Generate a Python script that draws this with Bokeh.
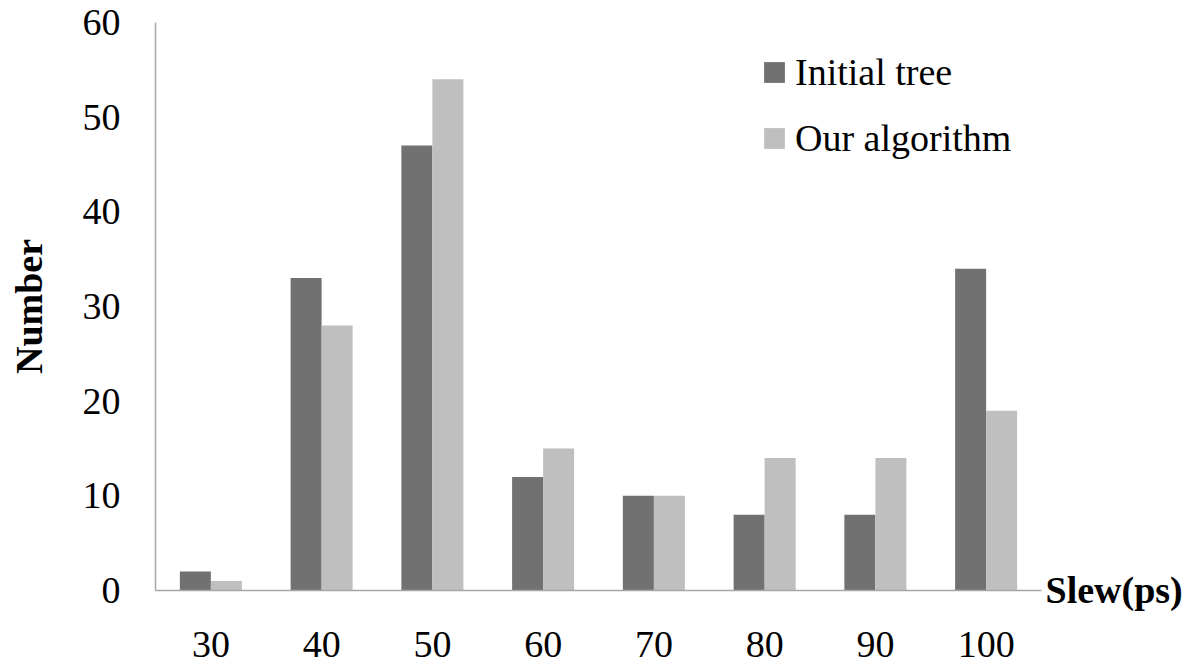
from bokeh.plotting import figure
from bokeh.layouts import row
from bokeh.models import Range1d, FactorRange, Legend, LegendItem, Label, ColumnDataSource
from bokeh.transform import dodge
from bokeh.embed import file_html
from bokeh.resources import INLINE

# ---- data ----
categories = ["30", "40", "50", "60", "70", "80", "90", "100"]
initial_tree = [2, 33, 47, 12, 10, 8, 8, 34]
our_algorithm = [1, 28, 54, 15, 10, 14, 14, 19]
y_ticks = [0, 10, 20, 30, 40, 50, 60]
series_names = ["Initial tree", "Our algorithm"]
x_title = "Slew(ps)"
y_title = "Number"

FONT = "Liberation Serif"
DARK = "#717171"
LIGHT = "#bfbfbf"
AXIS = "#a6a6a6"

src = ColumnDataSource(dict(cat=categories, initial=initial_tree, ours=our_algorithm))

p = figure(
    x_range=FactorRange(factors=categories, range_padding=0),
    y_range=Range1d(0, 60),
    width=1043, height=666,
    output_backend="svg", toolbar_location=None,
    min_border_left=155, min_border_right=2,
    min_border_top=22, min_border_bottom=76,
)

r1 = p.vbar(x=dodge("cat", -0.14, range=p.x_range), top="initial", width=0.28,
            source=src, fill_color=DARK, line_color=None)
r2 = p.vbar(x=dodge("cat", 0.14, range=p.x_range), top="ours", width=0.28,
            source=src, fill_color=LIGHT, line_color=None)

p.xgrid.visible = False
p.ygrid.visible = False
p.outline_line_color = None
p.background_fill_color = "white"
p.border_fill_color = "white"

for ax in (p.xaxis[0], p.yaxis[0]):
    ax.axis_line_color = AXIS
    ax.axis_line_width = 1.5
    ax.major_tick_line_color = None
    ax.minor_tick_line_color = None
    ax.major_tick_in = 0
    ax.major_tick_out = 0
    ax.minor_tick_in = 0
    ax.minor_tick_out = 0
    ax.major_label_text_font = FONT
    ax.major_label_text_font_size = "38px"
    ax.major_label_text_color = "#000000"

p.yaxis.ticker = y_ticks
p.yaxis.major_label_standoff = 35
p.yaxis.axis_label = y_title
p.yaxis.axis_label_text_font = FONT
p.yaxis.axis_label_text_font_style = "bold"
p.yaxis.axis_label_text_font_size = "38px"
p.yaxis.axis_label_text_color = "#000000"
p.yaxis.axis_label_standoff = 30

p.xaxis.major_label_standoff = 41

legend = Legend(
    items=[LegendItem(label=series_names[0], renderers=[r1]),
           LegendItem(label=series_names[1], renderers=[r2])],
    location=(606, 430),
    glyph_width=26, glyph_height=26, label_standoff=8, spacing=22,
    padding=0, margin=0, border_line_color=None, background_fill_alpha=0,
    label_text_font=FONT, label_text_font_size="38px", label_text_color="#000000",
)
p.add_layout(legend)

# side panel carrying the x-axis title next to the axis end
p2 = figure(width=147, height=666, output_backend="svg", toolbar_location=None,
            x_axis_type=None, y_axis_type=None,
            x_range=Range1d(0, 147), y_range=Range1d(0, 666),
            min_border_left=0, min_border_right=0, min_border_top=0, min_border_bottom=0)
try:
    p2.frame_align = False
except AttributeError:
    pass
p2.outline_line_color = None
p2.xgrid.visible = False
p2.ygrid.visible = False
p2.background_fill_color = "white"
p2.border_fill_color = "white"
p2.add_layout(Label(x=2, y=77, x_units="screen", y_units="screen", text=x_title,
                    text_baseline="alphabetic", text_align="left",
                    text_font=FONT, text_font_style="bold", text_font_size="38px",
                    text_color="#000000"))

layout = row(p, p2, spacing=0)
open("out.html", "w").write(file_html(layout, INLINE))
